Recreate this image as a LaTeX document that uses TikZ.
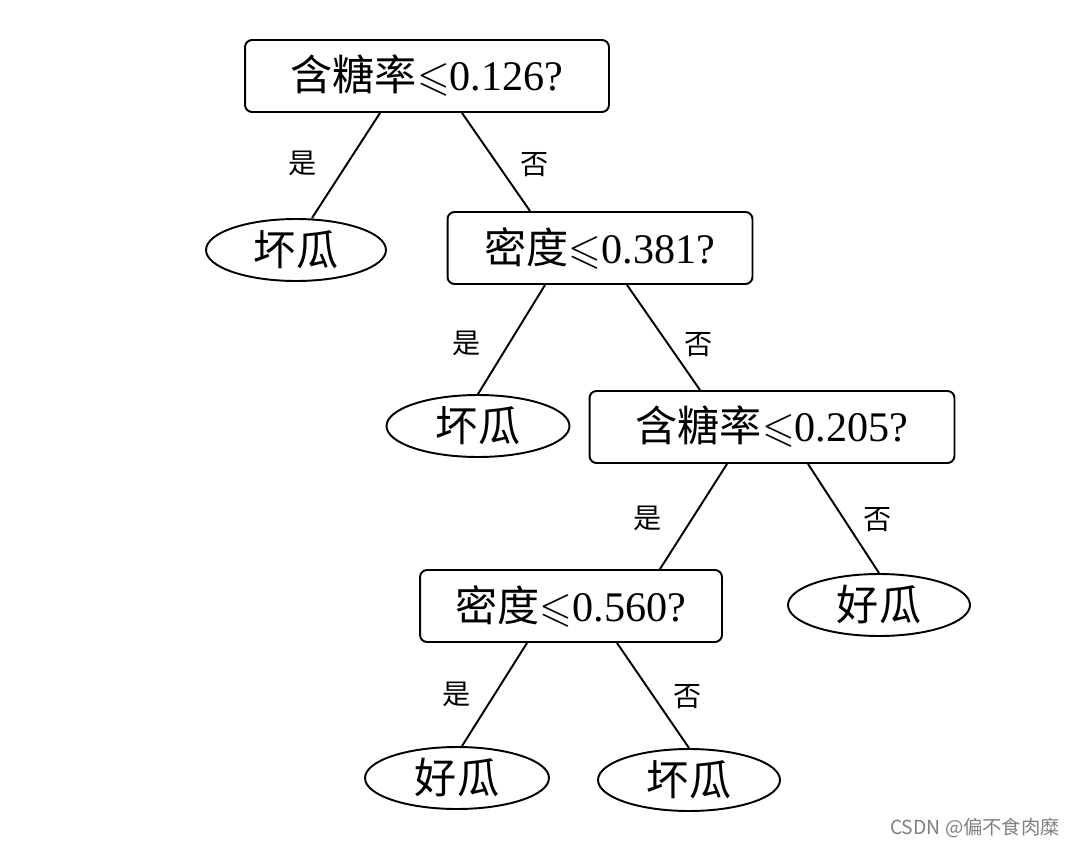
\documentclass[tikz,border=0pt]{standalone}
\usepackage{amssymb}
\usepackage{fontspec}
\setmainfont{Liberation Serif}
\newfontfamily\cjk{Noto Sans CJK SC}
\usetikzlibrary{shapes.geometric}
\begin{document}
\begin{tikzpicture}[x=0.02cm,y=-0.02cm,line width=1.1pt,
  q/.style={draw,rounded corners=4pt,minimum height=1.44cm,inner xsep=6pt,font=\fontsize{24}{28}\selectfont},
  leaf/.style={draw,ellipse,minimum width=3.6cm,minimum height=1.24cm,inner sep=0pt,font=\fontsize{24}{28}\selectfont\cjk},
  lab/.style={font=\fontsize{16}{18}\selectfont\cjk}]
\useasboundingbox (0,0) rectangle (1077,847);
\node[q,minimum width=7.28cm] (r) at (427,76) {{\cjk 含糖率}$\leqslant$0.126?};
\node[leaf] (b1) at (296,250) {坏瓜};
\node[q,minimum width=6.1cm] (d1) at (600,248) {{\cjk 密度}$\leqslant$0.381?};
\node[leaf,minimum width=3.66cm] (b2) at (478,426) {坏瓜};
\node[q,minimum width=7.3cm] (s2) at (772,427) {{\cjk 含糖率}$\leqslant$0.205?};
\node[q,minimum width=6.04cm] (d2) at (571,606) {{\cjk 密度}$\leqslant$0.560?};
\node[leaf,minimum width=3.64cm] (g1) at (879,605) {好瓜};
\node[leaf,minimum width=3.68cm] (g2) at (457,778) {好瓜};
\node[leaf,minimum width=3.64cm] (b3) at (689,780) {坏瓜};
\draw ([xshift=-0.94cm]r.south) -- ([xshift=0.32cm]b1.north);
\draw ([xshift=0.7cm]r.south) -- ([xshift=-1.4cm]d1.north);
\draw ([xshift=-1.1cm]d1.south) -- (b2.north);
\draw ([xshift=0.54cm]d1.south) -- ([xshift=-1.44cm]s2.north);
\draw ([xshift=-0.9cm]s2.south) -- ([xshift=1.78cm]d2.north);
\draw ([xshift=0.72cm]s2.south) -- (g1.north);
\draw ([xshift=-0.88cm]d2.south) -- ([xshift=0.1cm]g2.north);
\draw ([xshift=0.92cm]d2.south) -- (b3.north);
\node[lab] (l1) at (303,163) {是};
\node[lab] (l2) at (535,165) {否};
\node[lab] (l3) at (467,343) {是};
\node[lab] (l4) at (699,345) {否};
\node[lab] (l5) at (648,518) {是};
\node[lab] (l6) at (878,520) {否};
\node[lab] (l7) at (457,694) {是};
\node[lab] (l8) at (688,697) {否};
\node[font=\fontsize{11}{13}\selectfont\cjk,text=gray] (w) at (975,828) {CSDN @偏不食肉糜};
\end{tikzpicture}
\end{document}
